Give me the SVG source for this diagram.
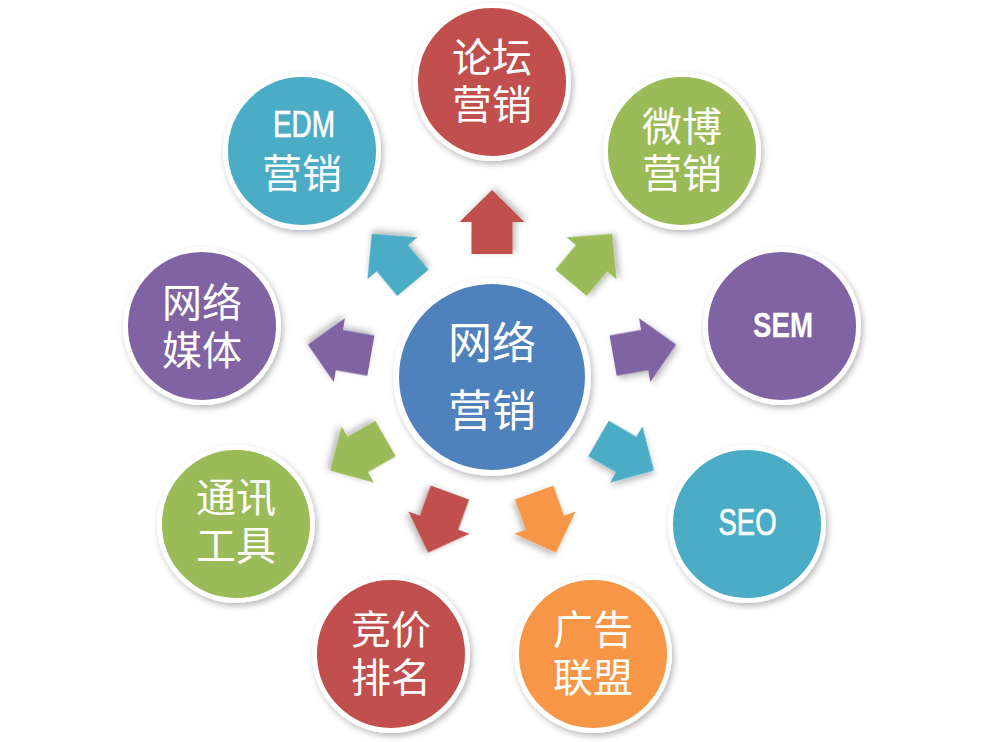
<svg xmlns="http://www.w3.org/2000/svg" xmlns:xlink="http://www.w3.org/1999/xlink" width="985" height="742" viewBox="0 0 985 742">
  <defs>
    <filter id="sh" x="-20%" y="-20%" width="140%" height="140%">
      <feDropShadow dx="2" dy="3" stdDeviation="3" flood-color="#000" flood-opacity="0.28"/>
    </filter>
    <path id="arr" d="M123,-20.5 H155 V-32.5 L187,0 L155,32.5 V20.5 H123 Z"/>
  </defs>
  <style>
    .node { stroke: #ffffff; stroke-width: 5; filter: url(#sh); }
    .red { fill: #C0504D; }
    .green { fill: #9BBB59; }
    .purple { fill: #8064A2; }
    .aqua { fill: #4BACC6; }
    .orange { fill: #F79646; }
    .blue { fill: #4F81BD; }
    .cjk { font-family: "Noto Sans CJK SC", sans-serif; font-size: 40px; fill: #ffffff; text-anchor: middle; }
    .lat { font-family: "Liberation Sans", Arial, sans-serif; font-size: 37px; fill: #ffffff; stroke: #ffffff; stroke-width: 0.7; text-anchor: middle; }
    .arrow { filter: url(#sh); }
  </style>
  <rect width="985" height="742" fill="#ffffff"/>

  <g id="connectors">
    <use xlink:href="#arr" href="#arr" class="arrow red" transform="translate(492,377) rotate(-90)"/>
    <use xlink:href="#arr" href="#arr" class="arrow green" transform="translate(492,377) rotate(-50)"/>
    <use xlink:href="#arr" href="#arr" class="arrow purple" transform="translate(492,377) rotate(-10)"/>
    <use xlink:href="#arr" href="#arr" class="arrow aqua" transform="translate(492,377) rotate(30)"/>
    <use xlink:href="#arr" href="#arr" class="arrow orange" transform="translate(492,377) rotate(70)"/>
    <use xlink:href="#arr" href="#arr" class="arrow red" transform="translate(492,377) rotate(110)"/>
    <use xlink:href="#arr" href="#arr" class="arrow green" transform="translate(492,377) rotate(150)"/>
    <use xlink:href="#arr" href="#arr" class="arrow purple" transform="translate(492,377) rotate(190)"/>
    <use xlink:href="#arr" href="#arr" class="arrow aqua" transform="translate(492,377) rotate(230)"/>
  </g>

  <g id="center">
    <circle cx="492" cy="377" r="96" class="blue" stroke="#ffffff" stroke-width="6" filter="url(#sh)"/>
    <text class="cjk" style="font-size:44px"><tspan x="492" y="359">网络</tspan><tspan x="492" y="427">营销</tspan></text>
  </g>

  <g id="luntan">
    <circle cx="492" cy="82" r="76.5" class="node red"/>
    <text class="cjk"><tspan x="492" y="72">论坛</tspan><tspan x="492" y="119">营销</tspan></text>
  </g>

  <g id="weibo">
    <circle cx="682" cy="151" r="76.5" class="node green"/>
    <text class="cjk"><tspan x="682" y="141">微博</tspan><tspan x="682" y="188">营销</tspan></text>
  </g>

  <g id="sem">
    <circle cx="782" cy="326" r="76.5" class="node purple"/>
    <text class="lat" x="783" y="337" style="font-size:35px;font-weight:bold;stroke-width:0.3" textLength="60" lengthAdjust="spacingAndGlyphs">SEM</text>
  </g>

  <g id="seo">
    <circle cx="747" cy="524" r="76.5" class="node aqua"/>
    <text class="lat" x="747.5" y="535" textLength="58" lengthAdjust="spacingAndGlyphs">SEO</text>
  </g>

  <g id="guanggao">
    <circle cx="593" cy="654" r="76.5" class="node orange"/>
    <text class="cjk"><tspan x="593" y="644">广告</tspan><tspan x="593" y="692">联盟</tspan></text>
  </g>

  <g id="jingjia">
    <circle cx="391" cy="654" r="76.5" class="node red"/>
    <text class="cjk"><tspan x="391" y="644">竞价</tspan><tspan x="391" y="692">排名</tspan></text>
  </g>

  <g id="tongxun">
    <circle cx="236" cy="524" r="76.5" class="node green"/>
    <text class="cjk"><tspan x="236" y="512">通讯</tspan><tspan x="236" y="560">工具</tspan></text>
  </g>

  <g id="meiti">
    <circle cx="202" cy="326" r="76.5" class="node purple"/>
    <text class="cjk"><tspan x="202" y="317">网络</tspan><tspan x="202" y="365">媒体</tspan></text>
  </g>

  <g id="edm">
    <circle cx="302" cy="151" r="76.5" class="node aqua"/>
    <text class="lat" x="304" y="137" textLength="62" lengthAdjust="spacingAndGlyphs">EDM</text>
    <text class="cjk" x="302" y="188">营销</text>
  </g>
</svg>
